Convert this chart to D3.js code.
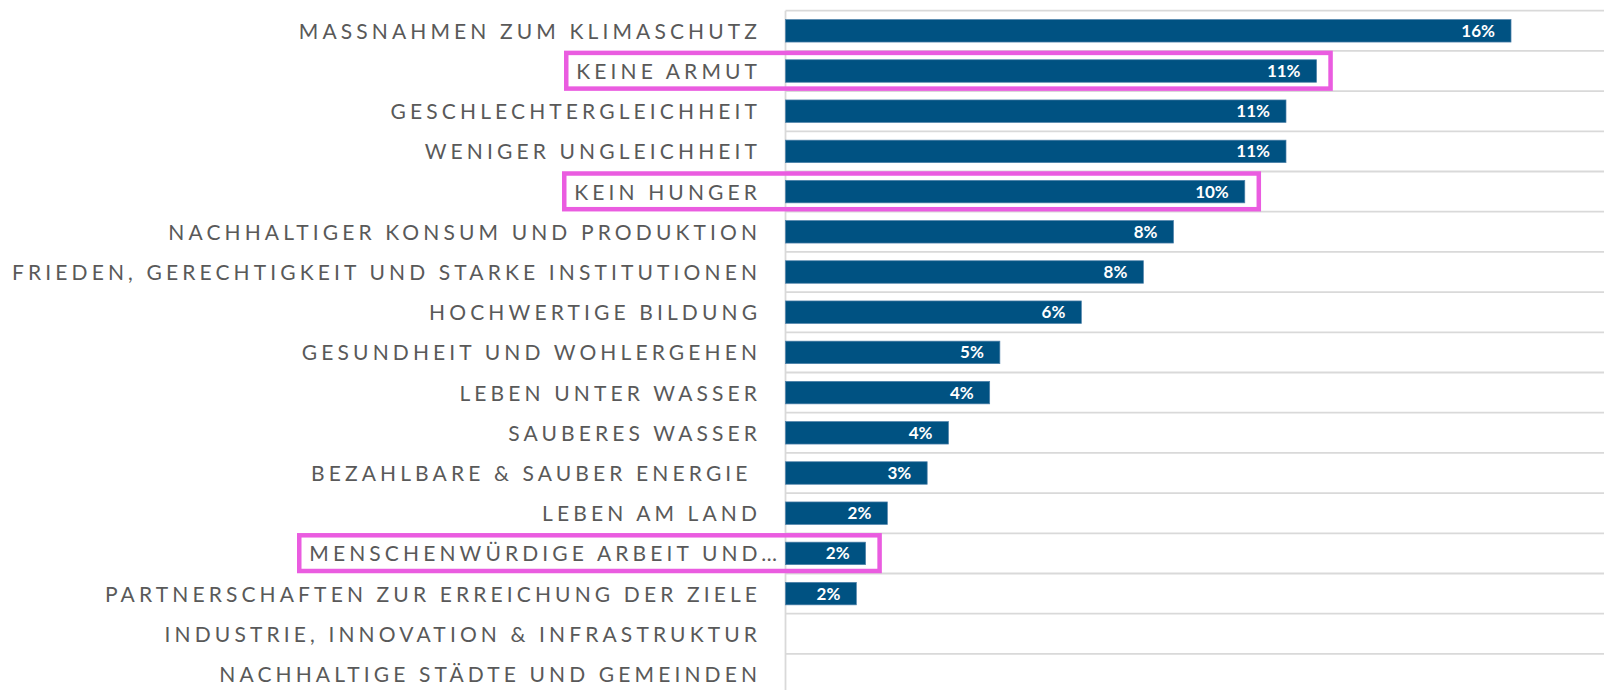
<!DOCTYPE html>
<html>
<head>
<meta charset="utf-8">
<script src="https://cdn.jsdelivr.net/npm/d3@7"></script>
<style>
  body { margin: 0; background: #fff; }
  svg { display: block; }
</style>
</head>
<body>
<script>
// Size of the svg
var w = 1604;
var h = 690;

// Categories (top to bottom), share in percent, highlighted rows
var categories = [
  "MASSNAHMEN ZUM KLIMASCHUTZ",
  "KEINE ARMUT",
  "GESCHLECHTERGLEICHHEIT",
  "WENIGER UNGLEICHHEIT",
  "KEIN HUNGER",
  "NACHHALTIGER KONSUM UND PRODUKTION",
  "FRIEDEN, GERECHTIGKEIT UND STARKE INSTITUTIONEN",
  "HOCHWERTIGE BILDUNG",
  "GESUNDHEIT UND WOHLERGEHEN",
  "LEBEN UNTER WASSER",
  "SAUBERES WASSER",
  "BEZAHLBARE & SAUBER ENERGIE ",
  "LEBEN AM LAND",
  "MENSCHENWÜRDIGE ARBEIT UND…",
  "PARTNERSCHAFTEN ZUR ERREICHUNG DER ZIELE",
  "INDUSTRIE, INNOVATION & INFRASTRUKTUR",
  "NACHHALTIGE STÄDTE UND GEMEINDEN"
];
var values = [15.67, 11.47, 10.81, 10.81, 9.92, 8.38, 7.73, 6.39, 4.63, 4.41, 3.52, 3.06, 2.20, 1.73, 1.53, 0, 0];
var highlighted = ["KEINE ARMUT", "KEIN HUNGER", "MENSCHENWÜRDIGE ARBEIT UND…"];

var rows = categories.map(function(c, i) { return { name: c, value: values[i] }; });

// Layout
var axisX = 785.5;
var top0 = 10.7;
var step = 40.2;
var labelEnd = 757;

var x = d3.scaleLinear()
    .domain([0, 20])
    .range([axisX, axisX + 926]);

var y = d3.scaleBand()
    .domain(categories)
    .range([top0, top0 + step * categories.length])
    .paddingInner(0.44)
    .paddingOuter(0.22);

var svg = d3.select("body")
    .append("svg")
    .attr("width", w)
    .attr("height", h);

// Horizontal gridlines between the categories
var bounds = d3.range(categories.length + 1).map(function(i) { return top0 + i * step; });
svg.selectAll("line.grid")
    .data(bounds)
    .enter().append("line")
    .attr("class", "grid")
    .attr("x1", axisX)
    .attr("x2", w)
    .attr("y1", function(d) { return d; })
    .attr("y2", function(d) { return d; })
    .attr("stroke", "#d9d9d9")
    .attr("stroke-width", 1.8);

// Vertical category axis line
svg.append("line")
    .attr("x1", axisX)
    .attr("x2", axisX)
    .attr("y1", top0)
    .attr("y2", h)
    .attr("stroke", "#d9d9d9")
    .attr("stroke-width", 1.8);

// Bars
svg.selectAll("rect.bar")
    .data(rows)
    .enter().append("rect")
    .attr("class", "bar")
    .attr("x", x(0))
    .attr("y", function(d) { return y(d.name); })
    .attr("width", function(d) { return x(d.value) - x(0); })
    .attr("height", y.bandwidth())
    .attr("fill", "#005282")
    .attr("stroke", function(d) { return d.value > 0 ? "#4f82aa" : "none"; })
    .attr("stroke-width", 0.7);

// Value labels inside the bar ends
svg.selectAll("text.val")
    .data(rows.filter(function(d) { return d.value > 0; }))
    .enter().append("text")
    .attr("class", "val")
    .attr("x", function(d) { return x(d.value) - 16; })
    .attr("y", function(d) { return y(d.name) + y.bandwidth() / 2 + 6; })
    .attr("text-anchor", "end")
    .attr("fill", "#fff")
    .style("font-family", "Lato, 'Open Sans', sans-serif")
    .style("font-weight", "700")
    .style("font-size", "17px")
    .text(function(d) { return Math.round(d.value) + "%"; });

// Category labels
var labels = svg.selectAll("text.cat")
    .data(categories)
    .enter().append("text")
    .attr("class", "cat")
    .attr("y", function(d) { return y(d) + y.bandwidth() / 2 + 8; })
    .attr("text-anchor", "end")
    .attr("fill", "#595959")
    .style("font-family", "Lato, 'Open Sans', sans-serif")
    .style("font-size", "21px")
    .style("white-space", "pre")
    .text(function(d) { return d; });

// Letter spacing chosen so that the longest label fills the space left of the axis
var longest = labels.filter(function(d) { return d === "FRIEDEN, GERECHTIGKEIT UND STARKE INSTITUTIONEN"; }).node();
var natural = longest.getComputedTextLength();
var spacing = (labelEnd - 12 - natural) / (longest.textContent.length - 1);

labels
    .style("letter-spacing", spacing + "px")
    .attr("x", function(d) { return (d.slice(-1) === "…" ? labelEnd + 20 : labelEnd) + spacing; });

// Pink highlight boxes around label and bar
labels.filter(function(d) { return highlighted.indexOf(d) >= 0; }).each(function(d) {
  var bb = this.getBBox();
  var rowTop = y(d) - y.step() * y.paddingInner() / 2;
  var v = values[categories.indexOf(d)];
  var left = bb.x - 10;
  var right = x(v) + 14;
  svg.append("rect")
      .attr("class", "hl")
      .attr("x", left)
      .attr("y", rowTop + 2)
      .attr("width", right - left)
      .attr("height", y.step() - 4.5)
      .attr("fill", "none")
      .attr("stroke", "#ea5ce0")
      .attr("stroke-width", 4.5);
});
</script>
</body>
</html>
